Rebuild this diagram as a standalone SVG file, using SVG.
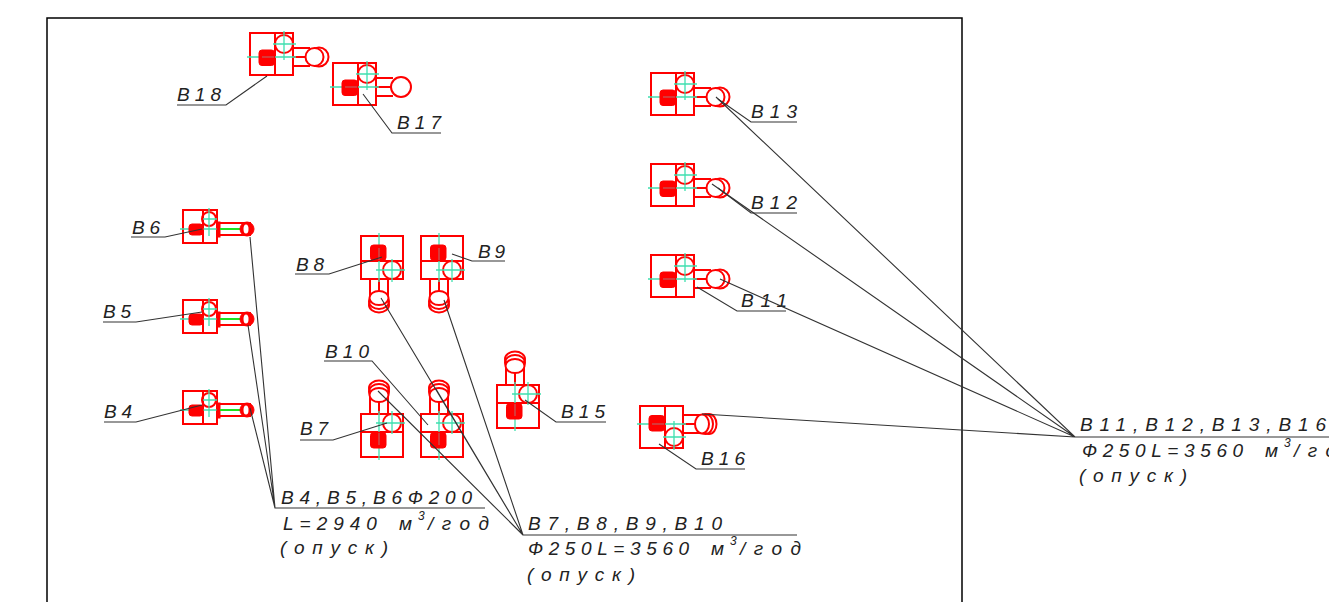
<svg xmlns="http://www.w3.org/2000/svg" width="1329" height="602" viewBox="0 0 1329 602">
<style>
.r{fill:none;stroke:#ff0000;stroke-width:2}
.rw{fill:#fff;stroke:#ff0000;stroke-width:2}
.f{fill:#ff0000;stroke:#ff0000;stroke-width:1}
.c{fill:none;stroke:#3fe0b0;stroke-width:1.3}
.d{fill:none;stroke:#b07070;stroke-width:1}
.g{fill:none;stroke:#20e020;stroke-width:2}
.l{fill:none;stroke:#333;stroke-width:1.1}
text{font-family:"Liberation Sans",Arial,sans-serif;font-style:italic;font-size:19px;fill:#222}
.sup{font-size:12px}
.w{letter-spacing:8.5px}
</style>
<defs>
<g id="body">
<rect class="r" x="0" y="0" width="43" height="42"/>
<line class="r" x1="25" y1="0" x2="25" y2="42"/>
<circle class="r" cx="34" cy="11" r="9"/>
<path class="r" d="M43 15H60M43 24H60M43 33H60"/>
<path class="c" d="M-3 24H46M23 11H46M34 -2V27"/>
<rect class="f" x="9" y="17" width="15.5" height="15.5" rx="3"/>
<path class="d" d="M12 24H24"/>
</g>
<g id="two"><circle class="r" cx="69" cy="24" r="9.5"/><circle class="rw" cx="64.5" cy="24" r="9"/></g>
<g id="one"><circle class="rw" cx="68" cy="24" r="10"/></g>
<g id="three"><ellipse class="r" cx="69" cy="24" rx="7.5" ry="10"/><ellipse class="r" cx="65.5" cy="24" rx="7.5" ry="10"/><ellipse class="rw" cx="62" cy="24" rx="7" ry="9.5"/></g>
<g id="small">
<rect class="r" x="0" y="0" width="34" height="33"/>
<line class="r" x1="20" y1="0" x2="20" y2="33"/>
<circle class="r" cx="26" cy="9" r="7"/>
<path class="c" d="M-3 19H37M20 9H34M26 -2V26"/>
<rect class="f" x="6" y="14" width="14" height="11" rx="3"/>
<rect class="f" x="34" y="12" width="3" height="15"/>
<path class="r" d="M37 13H68M37 25H68"/>
<line class="g" x1="37" y1="19" x2="65" y2="19"/>
<circle cx="64" cy="19" r="7" fill="#ff0000" stroke="#ff0000" stroke-width="1"/>
<ellipse cx="63" cy="19" rx="2.5" ry="4.5" fill="#fff"/>
</g>
</defs>
<rect x="0" y="0" width="1329" height="602" fill="#fff"/>
<path id="frame" d="M47 602V18H962V602" fill="none" stroke="#000" stroke-width="1.5"/>

<g id="B18"><g transform="translate(250,33)"><use href="#body"/><use href="#two"/></g><text x="177" y="101" textLength="44">В18</text></g>
<g id="B17"><g transform="translate(333,63)"><use href="#body"/><use href="#one"/></g><text x="397" y="129" textLength="44">В17</text></g>
<g id="B13"><g transform="translate(651,73)"><use href="#body"/><use href="#two"/></g><text x="751" y="118" textLength="46">В13</text></g>
<g id="B12"><g transform="translate(651,164)"><use href="#body"/><use href="#two"/></g><text x="751" y="209" textLength="46">В12</text></g>
<g id="B11"><g transform="translate(651,255)"><use href="#body"/><use href="#two"/></g><text x="741" y="307" textLength="46">В11</text></g>
<g id="B6"><use href="#small" transform="translate(183,210)"/><text x="132" y="234" textLength="28">В6</text></g>
<g id="B5"><use href="#small" transform="translate(183,300)"/><text x="103" y="318" textLength="28">В5</text></g>
<g id="B4"><use href="#small" transform="translate(183,391)"/><text x="104" y="418" textLength="28">В4</text></g>
<g id="B8"><g transform="translate(403,236) rotate(90)"><use href="#body"/><use href="#three"/></g><text x="296" y="271" textLength="28">В8</text></g>
<g id="B9"><g transform="translate(463,236) rotate(90)"><use href="#body"/><use href="#three"/></g><text x="478" y="258" textLength="27">В9</text></g>
<g id="B7"><g transform="matrix(0 -1 -1 0 403 457)"><use href="#body"/><use href="#three"/></g><text x="300" y="435" textLength="28">В7</text></g>
<g id="B10"><g transform="matrix(0 -1 -1 0 463 457)"><use href="#body"/><use href="#three"/></g><text x="325" y="358" textLength="44">В10</text></g>
<g id="B15"><g transform="matrix(0 -1 -1 0 539 428)"><use href="#body"/><use href="#three"/></g><text x="561" y="418" textLength="44">В15</text></g>
<g id="B16"><g transform="matrix(1 0 0 -1 640 448)"><use href="#body"/><use href="#three"/></g><text x="701" y="465" textLength="44">В16</text></g>

<g id="connectors">
<path class="l" d="M177 105H226L267 76"/>
<path class="l" d="M441 133H392L363 94"/>
<path class="l" d="M797 122H751L718 99"/>
<path class="l" d="M797 213H751L718 188"/>
<path class="l" d="M786 311H737L697 287"/>
<path class="l" d="M131 237H165L202 229"/>
<path class="l" d="M103 322H136L202 312"/>
<path class="l" d="M104 422H136L202 405"/>
<path class="l" d="M295 274H329L382 257"/>
<path class="l" d="M505 261H472L452 254"/>
<path class="l" d="M300 440H333L387 423"/>
<path class="l" d="M324 361H372L428 425"/>
<path class="l" d="M606 422H556L525 400"/>
<path class="l" d="M745 469H696L659 444"/>
<path class="l" d="M485 508H275L250 237M275 508L248 325M275 508L250 408"/>
<path class="l" d="M797 535H523L381 298M523 535L444 300M523 535L378 391M523 535L436 389"/>
<path class="l" d="M1329 437H1075L716 97M1075 437L712 184M1075 437L720 279M1075 437L702 414"/>
</g>

<g id="note-b4-b6">
<text x="281" y="504" textLength="191">В4,В5,В6Ф200</text>
<text y="530" letter-spacing="6"><tspan x="283">L=2940 </tspan><tspan x="399">м</tspan><tspan class="sup" x="418" y="520">3</tspan><tspan class="w" x="428" y="530">/год</tspan></text>
<text x="280" y="554" textLength="108">(опуск)</text>
</g>
<g id="note-b7-b10">
<text x="528" y="530" textLength="194">В7,В8,В9,В10</text>
<text y="555" letter-spacing="5.6"><tspan x="528">Ф250L=3560 </tspan><tspan x="711">м</tspan><tspan class="sup" x="730" y="545">3</tspan><tspan class="w" x="740" y="555">/год</tspan></text>
<text x="527" y="581" textLength="108">(опуск)</text>
</g>
<g id="note-b11-b16">
<text x="1080" y="431" textLength="246">В11,В12,В13,В16</text>
<text y="457" letter-spacing="5.6"><tspan x="1082">Ф250L=3560 </tspan><tspan x="1265">м</tspan><tspan class="sup" x="1284" y="447">3</tspan><tspan class="w" x="1294" y="457">/год</tspan></text>
<text x="1079" y="482" textLength="108">(опуск)</text>
</g>
</svg>
